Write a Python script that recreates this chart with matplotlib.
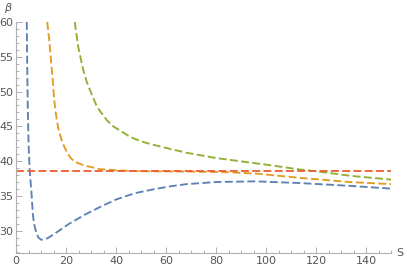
import numpy as np
import matplotlib.pyplot as plt

# curve samples (S, beta)
s_blue = [4.3, 4.5, 4.7, 4.9, 5.1, 5.5, 6.1, 6.8, 7.3, 8.1, 9.0, 10.1, 11.3, 12.8, 16.8, 20.8,
          27.5, 34.1, 40.1, 47.6, 55.0, 62.0, 68.3, 80.0, 96.0, 113.6, 133.6, 150.0]
b_blue = [60.0, 53.0, 48.0, 44.5, 41.7, 38.55, 35.9, 32.1, 30.9, 29.7, 29.0, 28.7, 28.75, 28.95, 29.9, 30.9,
          32.3, 33.5, 34.5, 35.4, 35.95, 36.4, 36.7, 37.0, 37.1, 36.85, 36.45, 36.05]

s_orange = [12.5, 13.3, 14.0, 14.7, 15.3, 16.3, 17.2, 18.2, 19.3, 20.5, 22.0, 23.6, 26.0, 28.3,
            33.6, 41.6, 50.0, 70.0, 85.6, 96.3, 113.6, 133.6, 150.0]
b_orange = [60.0, 57.4, 54.5, 51.6, 48.7, 45.9, 44.3, 43.1, 42.1, 41.2, 40.4, 39.9, 39.55, 39.3,
            38.85, 38.65, 38.55, 38.5, 38.4, 38.2, 37.6, 37.0, 36.7]

s_green = [23.5, 24.9, 26.9, 28.3, 29.6, 32.3, 33.6, 36.3, 38.9, 41.6, 45.6, 49.6, 53.3, 60.0,
           68.3, 80.0, 93.6, 100.0, 113.6, 120.0, 133.6, 150.0]
b_green = [60.0, 56.4, 53.1, 51.4, 50.2, 47.9, 47.2, 45.9, 45.0, 44.4, 43.5, 42.9, 42.5, 41.9,
           41.2, 40.45, 39.8, 39.5, 38.8, 38.55, 37.9, 37.35]

s_red = [0.0, 150.0]
b_red = [38.55, 38.55]

fig = plt.figure(figsize=(4.09, 2.71), dpi=100)
ax = fig.add_axes([16/409, 1-253/271, 375/409, 231/271])

dash = (0, (4.2, 1.8))
lw = 1.35
ax.plot(s_blue, b_blue, color='#5E81B5', lw=lw, linestyle=dash)
ax.plot(s_orange, b_orange, color='#E19C24', lw=lw, linestyle=dash)
ax.plot(s_green, b_green, color='#8FB032', lw=lw, linestyle=dash)
ax.plot(s_red, b_red, color='#EB6235', lw=lw, linestyle=dash)

ax.set_xlim(0, 150)
ax.set_ylim(26.8, 60)

for sp in ['top', 'right']:
    ax.spines[sp].set_visible(False)
for sp in ['left', 'bottom']:
    ax.spines[sp].set_color('#b0b0b0')
    ax.spines[sp].set_linewidth(0.8)

ax.set_xticks(np.arange(0, 141, 20))
ax.set_xticks(np.arange(0, 151, 5), minor=True)
ax.set_yticks(np.arange(30, 61, 5))
ax.set_yticks(np.arange(27, 61, 1), minor=True)
ax.tick_params(which='both', direction='in', color='#b0b0b0', labelcolor='#555555',
               labelsize=8, width=0.7)
ax.tick_params(which='major', length=4, pad=2)
ax.tick_params(which='minor', length=2)

fig.text(8/409, 1-8/271, 'β', color='#555555', fontsize=8, ha='center', va='center',
         style='italic')
fig.text(400/409, 1-253/271, 'S', color='#555555', fontsize=8, ha='center', va='center')

fig.savefig('out.png', dpi=100)
